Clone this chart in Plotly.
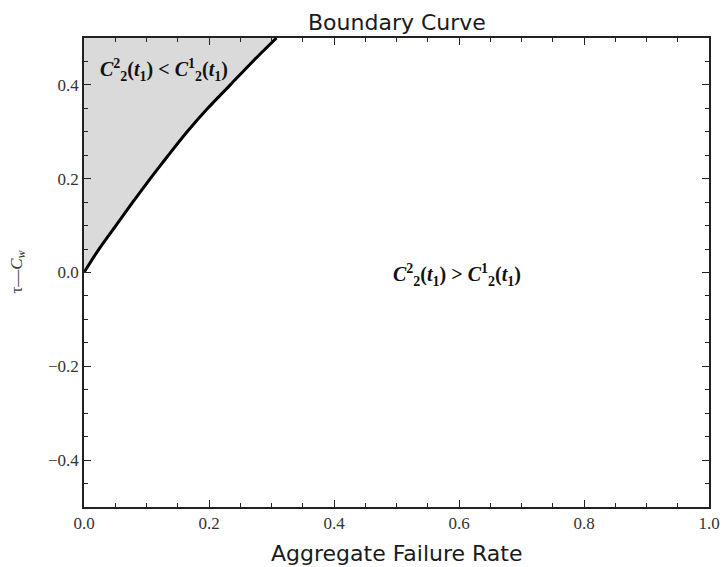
import plotly.graph_objects as go

# Boundary curve: aggregate failure rate vs tau - C_w
rate = [0.0, 0.024, 0.051, 0.078, 0.106, 0.135, 0.165, 0.198, 0.234, 0.270, 0.308]
tau_cw = [0.0, 0.05, 0.10, 0.15, 0.20, 0.25, 0.30, 0.35, 0.40, 0.45, 0.50]

x_ticks = [0.0, 0.2, 0.4, 0.6, 0.8, 1.0]
y_ticks = [-0.4, -0.2, 0.0, 0.2, 0.4]

title_text = "Boundary Curve"
x_title = "Aggregate Failure Rate"
y_title = "τ—<i>C</i><sub><i>w</i></sub>"
label_lt = "<b><i>C</i><sup>2</sup><sub>2</sub>(<i>t</i><sub>1</sub>) &lt; <i>C</i><sup>1</sup><sub>2</sub>(<i>t</i><sub>1</sub>)</b>"
label_gt = "<b><i>C</i><sup>2</sup><sub>2</sub>(<i>t</i><sub>1</sub>) &gt; <i>C</i><sup>1</sup><sub>2</sub>(<i>t</i><sub>1</sub>)</b>"

fig = go.Figure()

# shaded region between the y axis and the curve
fig.add_trace(go.Scatter(
    x=[0.0] + rate + [0.0],
    y=[tau_cw[0]] + tau_cw + [tau_cw[-1]],
    fill="toself", fillcolor="#dadada", mode="none",
    hoverinfo="skip", showlegend=False,
))
fig.add_trace(go.Scatter(
    x=rate, y=tau_cw, mode="lines",
    line=dict(color="black", width=3, shape="spline", smoothing=0.8), showlegend=False,
))

tick_font = dict(family="Liberation Serif, Times New Roman, serif", size=17, color="#333333")
axis_common = dict(
    showgrid=False, zeroline=False, showline=True, linecolor="#222222", linewidth=1.5,
    mirror="ticks", ticks="inside", ticklen=7, tickwidth=1.3, tickcolor="#222222",
    tickfont=tick_font, tickformat=".1f", automargin=False,
)

fig.update_xaxes(range=[0, 1], tickvals=x_ticks,
                 minor=dict(dtick=0.05, ticks="inside", ticklen=4, tickcolor="#222222", tickwidth=1.2),
                 **axis_common)
fig.update_yaxes(range=[-0.5, 0.5], tickvals=y_ticks,
                 minor=dict(dtick=0.05, ticks="inside", ticklen=4, tickcolor="#222222", tickwidth=1.2),
                 **axis_common)

ann_font = dict(family="Liberation Serif, Times New Roman, serif", size=20, color="#111111")
fig.update_layout(
    width=722, height=567,
    margin=dict(l=84, r=13, t=38, b=60),
    plot_bgcolor="white", paper_bgcolor="white",
    annotations=[
        dict(text=title_text, xref="paper", yref="paper", x=0.5, y=1.0, yshift=16,
             showarrow=False, xanchor="center", yanchor="middle",
             font=dict(family="DejaVu Sans, Verdana, sans-serif", size=22, color="#1a1a1a")),
        dict(text=x_title, xref="paper", yref="paper", x=0.5, y=0.0, yshift=-46,
             showarrow=False, xanchor="center", yanchor="middle",
             font=dict(family="DejaVu Sans, Verdana, sans-serif", size=22, color="#1a1a1a")),
        dict(text=y_title, xref="paper", yref="paper", x=0.0, xshift=-67, y=0.5,
             showarrow=False, xanchor="center", yanchor="middle", textangle=-90,
             font=dict(family="Liberation Serif, Times New Roman, serif", size=17, color="#333333")),
        dict(text=label_lt, x=0.128, y=0.432, xref="x", yref="y", showarrow=False,
             xanchor="center", yanchor="middle", font=ann_font),
        dict(text=label_gt, x=0.597, y=-0.005, xref="x", yref="y", showarrow=False,
             xanchor="center", yanchor="middle", font=ann_font),
    ],
)

fig.write_html("out.html", config={"displayModeBar": False},
               post_script="document.body.style.margin='0';document.body.style.overflow='hidden';")
